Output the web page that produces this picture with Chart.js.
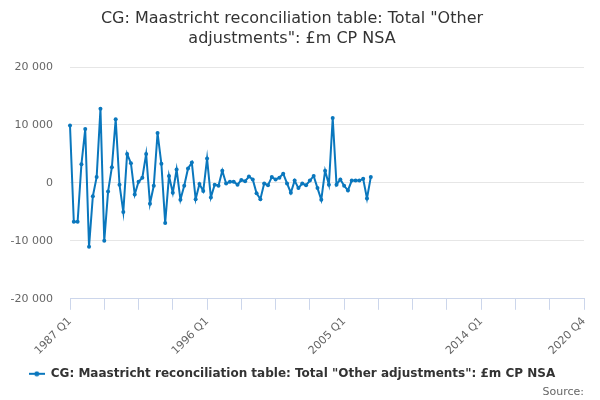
<!DOCTYPE html>
<html>
<head>
<meta charset="utf-8">
<script src="https://cdn.jsdelivr.net/npm/chart.js@4/dist/chart.umd.min.js"></script>
<style>
  html, body { margin: 0; padding: 0; background: #fff; }
  #wrap { width: 600px; height: 400px; }
</style>
</head>
<body>
<div id="wrap"><canvas id="chart"></canvas></div>
<script>
// quarters 1987 Q1 .. 2020 Q4
const startYear = 1987
const endYear = 2020
const quarters = []
for (let y = startYear; y <= endYear; y++) {
  for (let q = 1; q <= 4; q++) quarters.push(y + ' Q' + q)
}

// £m, 1987 Q1 .. 2006 Q4
const otherAdjustments = [
  9900, -6700, -6700, 3200, 9300, -11000, -2300, 1000, 12800, -10000,
  -1500, 2700, 11000, -300, -5000, 5000, 3400, -2000, 200, 900,
  5000, -3600, -500, 8600, 3300, -6900, 1200, -1700, 2300, -2900,
  -500, 2500, 3500, -2800, -200, -1400, 4200, -2500, -300, -500,
  2100, -100, 200, 200, -300, 500, 300, 1100, 600, -1800,
  -2800, -100, -400, 1000, 600, 900, 1600, -100, -1700, 400,
  -900, -100, -400, 400, 1200, -900, -2900, 2100, -300, 11200,
  -300, 600, -500, -1300, 400, 400, 400, 700, -2700, 1000
]

const yTicks = [-20000, -10000, 0, 10000, 20000]

const seriesName = 'CG: Maastricht reconciliation table: Total "Other adjustments": £m CP NSA'
const blue = '#0a77bd'
const font = 'DejaVu Sans'

function spaced(n) {
  return n.toString().replace(/\B(?=(\d{3})+(?!\d))/g, ' ')
}

// legend symbol: short line with a dot in the middle
const sym = document.createElement('canvas')
sym.width = 16
sym.height = 6
const sctx = sym.getContext('2d')
sctx.strokeStyle = blue
sctx.lineWidth = 2
sctx.beginPath(); sctx.moveTo(0, 3); sctx.lineTo(16, 3); sctx.stroke()
sctx.fillStyle = blue
sctx.beginPath(); sctx.arc(8, 3, 2.5, 0, Math.PI * 2); sctx.fill()

const lastIdx = quarters.length - 1

new Chart(document.getElementById('chart'), {
  type: 'line',
  data: {
    labels: quarters,
    datasets: [{
      label: seriesName,
      data: otherAdjustments,
      borderColor: blue,
      backgroundColor: blue,
      borderWidth: 2,
      pointRadius: 2,
      pointBorderWidth: 0,
      pointHoverRadius: 3,
      tension: 0
    }]
  },
  options: {
    responsive: true,
    maintainAspectRatio: false,
    animation: false,
    layout: { padding: { left: 0, right: 16, top: 0, bottom: 1 } },
    plugins: {
      title: {
        display: true,
        text: ['CG: Maastricht reconciliation table: Total "Other', 'adjustments": £m CP NSA'],
        color: '#333333',
        font: { family: font, size: 16, weight: 'normal', lineHeight: 1.25 },
        padding: { top: 9, bottom: 18 }
      },
      subtitle: {
        display: true,
        position: 'bottom',
        align: 'end',
        text: 'Source:',
        color: '#666666',
        font: { family: font, size: 11, weight: 'normal' },
        padding: { top: -4, bottom: 0 }
      },
      legend: {
        position: 'bottom',
        labels: {
          usePointStyle: true,
          pointStyle: sym,
          pointStyleWidth: 16,
          color: '#333333',
          font: { family: font, size: 12, weight: 'bold' },
          padding: 1
        }
      },
      tooltip: { enabled: false }
    },
    scales: {
      x: {
        type: 'category',
        offset: false,
        afterFit: function (scale) { scale.height = 68 },
        grid: {
          display: true,
          drawOnChartArea: false,
          drawTicks: true,
          tickLength: 11,
          color: '#ccd6eb'
        },
        border: { display: true, color: '#ccd6eb' },
        ticks: {
          autoSkip: false,
          maxRotation: 45,
          minRotation: 45,
          padding: 5,
          color: '#666666',
          font: { family: font, size: 11 },
          callback: function (val, index) {
            if (index % 36 === 0 || index === lastIdx) return quarters[index]
            if (index % 9 === 0) return ''
            return null
          }
        }
      },
      y: {
        min: yTicks[0],
        max: yTicks[yTicks.length - 1],
        afterFit: function (scale) { scale.width = 70 },
        afterBuildTicks: function (scale) {
          scale.ticks = yTicks.map(v => ({ value: v }))
        },
        grid: {
          drawTicks: false,
          color: ctx => ctx.tick && ctx.tick.value === yTicks[0] ? '#ccd6eb' : '#e6e6e6'
        },
        border: { display: false },
        ticks: {
          padding: 17,
          color: '#666666',
          font: { family: font, size: 11 },
          callback: v => spaced(v)
        }
      }
    }
  }
})
</script>
</body>
</html>
